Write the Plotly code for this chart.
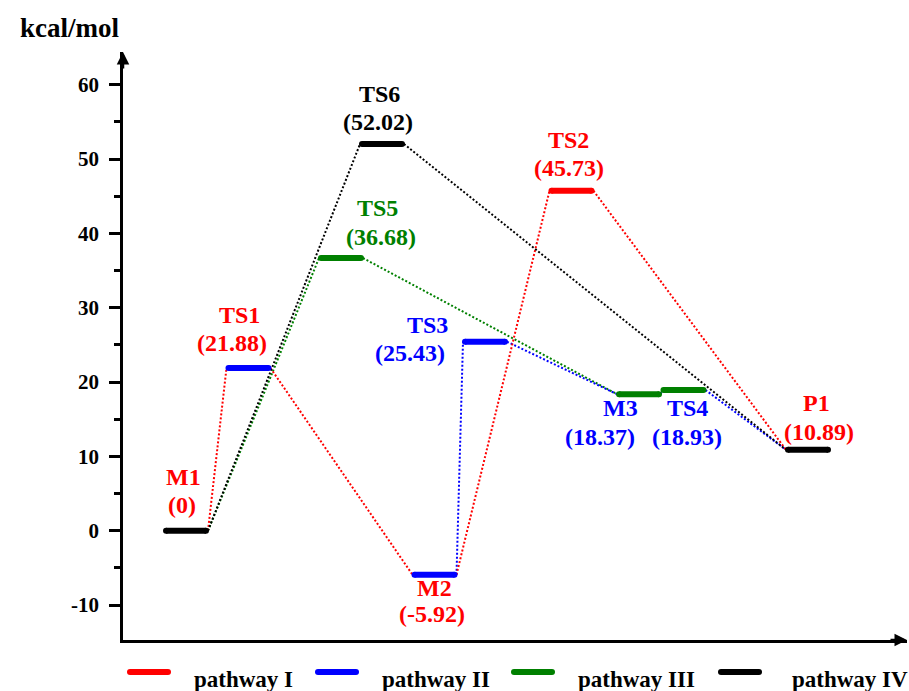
import plotly.graph_objects as go

# ---------------- data ----------------
stages = ["M1", "TS1", "TS5", "TS6", "M2", "TS3", "TS2", "M3", "TS4", "P1"]
energies = [0.0, 21.88, 36.68, 52.02, -5.92, 25.43, 45.73, 18.37, 18.93, 10.89]
value_labels = ["(0)", "(21.88)", "(36.68)", "(52.02)", "(-5.92)", "(25.43)",
                "(45.73)", "(18.37)", "(18.93)", "(10.89)"]
pathway_names = ["pathway I", "pathway II", "pathway III", "pathway IV"]
pathway_I = ["M1", "TS1", "M2", "TS2", "P1"]
pathway_II = ["M1", "TS1", "M2", "TS3", "M3", "TS4", "P1"]
pathway_III = ["M1", "TS5", "M3", "TS4", "P1"]
pathway_IV = ["M1", "TS6", "P1"]
y_tick_vals = [-10, 0, 10, 20, 30, 40, 50, 60]
y_tick_text = ["-10", "0", "10", "20", "30", "40", "50", "60"]

# ---------------- layout / styles ----------------
RED, BLUE, GREEN, BLACK = "#ff0000", "#0000ff", "#008000", "#000000"
SERIF = "Liberation Serif"
L, R, T, B = 123, 2, 52, 51
W, H = 909, 691
PW, PH = W - L - R, H - T - B
stage_x = {"M1": 63, "TS1": 125.5, "TS5": 218, "TS6": 259, "M2": 311.5,
           "TS3": 362, "TS2": 448.5, "M3": 516, "TS4": 560.5, "P1": 685}
half = 20
conn_half = 22
bar_color = {"M1": BLACK, "TS1": BLUE, "TS5": GREEN, "TS6": BLACK, "M2": BLUE,
             "TS3": BLUE, "TS2": RED, "M3": GREEN, "TS4": GREEN, "P1": BLACK}
label_color = {"M1": RED, "TS1": RED, "TS5": GREEN, "TS6": BLACK, "M2": RED,
               "TS3": BLUE, "TS2": RED, "M3": BLUE, "TS4": BLUE, "P1": RED}
# (dx_name, dy_name, dx_value, dy_value) pixel offsets from bar centre (dy down positive)
label_off = {"M1": (-3, -54, -4, -26), "TS1": (-9, -53, -17, -25),
             "TS5": (36, -50, 40, -21), "TS6": (-3, -50, -4, -22),
             "M2": (0, 13, -3, 39), "TS3": (-58, -17, -75, 11),
             "TS2": (-3, -51, -3, -23), "M3": (-19, 14, -39, 43),
             "TS4": (4, 18, 3, 47), "P1": (8, -47, 11, -18)}
E = dict(zip(stages, energies))
V = dict(zip(stages, value_labels))

fig = go.Figure()

# drawing order bottom -> top; a shared segment is drawn only by the topmost pathway
draw_order = [(pathway_III, GREEN), (pathway_II, BLUE), (pathway_I, RED), (pathway_IV, BLACK)]
seg_owner = {}
for i, (seq, col) in enumerate(draw_order):
    for a, b in zip(seq[:-1], seq[1:]):
        seg_owner[(a, b)] = i

for i, (seq, col) in enumerate(draw_order):
    xs, ys = [], []
    for a, b in zip(seq[:-1], seq[1:]):
        if seg_owner[(a, b)] != i:
            continue
        xs += [stage_x[a] + conn_half, stage_x[b] - conn_half, None]
        ys += [E[a], E[b], None]
    fig.add_trace(go.Scatter(x=xs, y=ys, mode="lines", connectgaps=False,
                             line=dict(color=col, width=2, dash="2px,2px"),
                             hoverinfo="skip", showlegend=False))

for s in stages:
    fig.add_trace(go.Scatter(x=[stage_x[s] - half, stage_x[s] + half], y=[E[s], E[s]],
                             mode="lines+markers", line=dict(color=bar_color[s], width=6),
                             marker=dict(color=bar_color[s], size=6, line=dict(width=0)),
                             hoverinfo="skip", showlegend=False))

ann = []
for s in stages:
    dxn, dyn, dxv, dyv = label_off[s]
    for txt, dx, dy in [(s, dxn, dyn), (V[s], dxv, dyv)]:
        ann.append(dict(x=stage_x[s], y=E[s], xref="x", yref="y", text=txt,
                        showarrow=False, xshift=dx, yshift=-dy,
                        xanchor="center", yanchor="middle",
                        font=dict(family=SERIF, size=24, weight="bold", color=label_color[s])))

# axis arrowheads
ann.append(dict(x=0, y=1, xref="paper", yref="paper", showarrow=True, ax=0, ay=18,
                arrowhead=2, arrowsize=1, arrowwidth=2.5, arrowcolor="black", text=""))
ann.append(dict(x=1, y=0, xref="paper", yref="paper", showarrow=True, ax=-18, ay=0,
                arrowhead=2, arrowsize=1, arrowwidth=2.5, arrowcolor="black", text=""))

# unit label
ann.append(dict(x=(69 - L) / PW, y=(H - B - 28) / PH, xref="paper", yref="paper",
                text="kcal/mol", showarrow=False, xanchor="center", yanchor="middle",
                font=dict(family=SERIF, size=27, weight="bold", color="black")))

# legend
leg_cols = [RED, BLUE, GREEN, BLACK]
leg_line_x = [130, 318, 514, 721]
leg_text_x = [192, 380, 576, 790]
shapes = []
leg_y = (H - B - 672) / PH
for name, col, lx, tx in zip(pathway_names, leg_cols, leg_line_x, leg_text_x):
    x0p, x1p = (lx - L) / PW, (lx + 38 - L) / PW
    shapes.append(dict(type="line", xref="paper", yref="paper",
                       x0=x0p, x1=x1p, y0=leg_y, y1=leg_y,
                       line=dict(color=col, width=6)))
    for xp in (x0p, x1p):
        shapes.append(dict(type="circle", xref="paper", yref="paper",
                           xsizemode="pixel", ysizemode="pixel", xanchor=xp, yanchor=leg_y,
                           x0=-3, x1=3, y0=-3, y1=3, fillcolor=col, line=dict(width=0)))
    ann.append(dict(x=(tx - L) / PW, y=(H - B - 679) / PH, xref="paper", yref="paper",
                    text=name, showarrow=False, xanchor="left", yanchor="middle",
                    font=dict(family=SERIF, size=23, weight="bold", color="black")))

fig.update_layout(
    width=W, height=H, margin=dict(l=L, r=R, t=T, b=B),
    paper_bgcolor="white", plot_bgcolor="white",
    showlegend=False, annotations=ann, shapes=shapes,
    xaxis=dict(range=[0, PW], showgrid=False, zeroline=False, showticklabels=False,
               ticks="", showline=True, linecolor="black", linewidth=2.5, fixedrange=True),
    yaxis=dict(range=[-14.7, 64.4], showgrid=False, zeroline=False,
               tickvals=y_tick_vals, ticktext=y_tick_text, ticks="outside", ticklen=11,
               tickwidth=2.5, tickcolor="black", showline=True, linecolor="black",
               linewidth=2.5, ticklabelstandoff=6,
               tickfont=dict(family=SERIF, size=21, weight="bold", color="black"),
               minor=dict(tickvals=[-5, 5, 15, 25, 35, 45, 55], ticks="outside", ticklen=6,
                          tickwidth=2.5, tickcolor="black", showgrid=False)),
)

fig.write_html("out.html")
